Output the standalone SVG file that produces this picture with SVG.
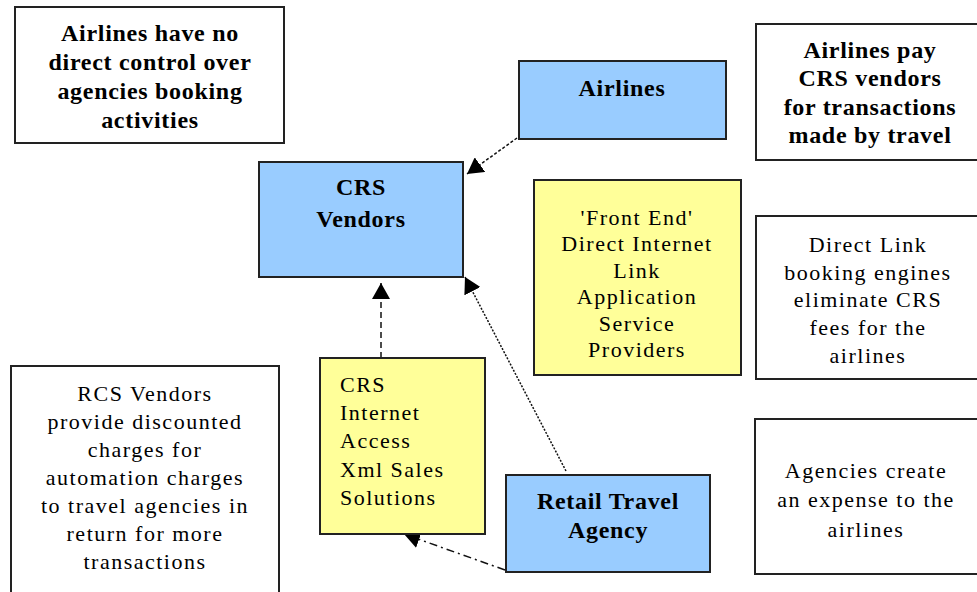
<svg xmlns="http://www.w3.org/2000/svg" width="977" height="592" viewBox="0 0 977 592">
<style>
.box{stroke:#222;stroke-width:2}
.note{fill:#ffffff}
.blue{fill:#99ccff}
.yellow{fill:#ffff99}
text{font-family:'Liberation Serif','DejaVu Serif','Times New Roman',serif;fill:#000}
.b{font-weight:bold;font-size:24px;letter-spacing:0.7px;text-anchor:middle}
.r{font-size:22px;letter-spacing:1.5px;text-anchor:middle}
.rl{font-size:22px;letter-spacing:1.5px;text-anchor:start}
.c{fill:none;stroke:#111;stroke-width:1.5}
</style>
<defs>
<marker id="ah" viewBox="0 0 16 18" refX="16" refY="9" markerWidth="16" markerHeight="18" markerUnits="userSpaceOnUse" orient="auto">
<path d="M0,0 L16,9 L0,18 z" fill="#000"/>
</marker>
</defs>
<rect width="977" height="592" fill="#ffffff"/>
<g id="connectors">
<line class="c" x1="517" y1="138" x2="467" y2="174" stroke-dasharray="3,2" marker-end="url(#ah)"/>
<line class="c" x1="566" y1="471" x2="465" y2="277" stroke-dasharray="2,1.5" marker-end="url(#ah)"/>
<line class="c" x1="381" y1="358" x2="381" y2="283" stroke-dasharray="6,4" marker-end="url(#ah)"/>
<line class="c" x1="505" y1="570" x2="404" y2="534" stroke-dasharray="8,4,2,4" marker-end="url(#ah)"/>
</g>
<g id="note-no-control">
<rect class="box note" x="15" y="7" width="269" height="136"/>
<text class="b" x="150" y="41" font-family="Liberation Serif, serif">Airlines have no</text>
<text class="b" x="150" y="70">direct control over</text>
<text class="b" x="150" y="99">agencies booking</text>
<text class="b" x="150" y="128">activities</text>
</g>
<g id="airlines">
<rect class="box blue" x="519" y="61" width="207" height="78"/>
<text class="b" x="622" y="96">Airlines</text>
</g>
<g id="note-airlines-pay">
<rect class="box note" x="756" y="24" width="230" height="136"/>
<text class="b" x="870" y="58">Airlines pay</text>
<text class="b" x="870" y="86">CRS vendors</text>
<text class="b" x="870" y="115">for transactions</text>
<text class="b" x="870" y="143">made by travel</text>
</g>
<g id="crs-vendors">
<rect class="box blue" x="259" y="162" width="204" height="115"/>
<text class="b" x="361" y="195">CRS</text>
<text class="b" x="361" y="227">Vendors</text>
</g>
<g id="front-end">
<rect class="box yellow" x="534" y="180" width="207" height="195"/>
<text class="r" x="637" y="225">'Front End'</text>
<text class="r" x="637" y="251">Direct Internet</text>
<text class="r" x="637" y="278">Link</text>
<text class="r" x="637" y="304">Application</text>
<text class="r" x="637" y="331">Service</text>
<text class="r" x="637" y="357">Providers</text>
</g>
<g id="note-direct-link">
<rect class="box note" x="756" y="216" width="230" height="163"/>
<text class="r" x="868" y="252">Direct Link</text>
<text class="r" x="868" y="280">booking engines</text>
<text class="r" x="868" y="307">eliminate CRS</text>
<text class="r" x="868" y="335">fees for the</text>
<text class="r" x="868" y="363">airlines</text>
</g>
<g id="note-rcs-vendors">
<rect class="box note" x="11" y="366" width="268" height="240"/>
<text class="r" x="145" y="401">RCS Vendors</text>
<text class="r" x="145" y="429">provide discounted</text>
<text class="r" x="145" y="457">charges for</text>
<text class="r" x="145" y="485">automation charges</text>
<text class="r" x="145" y="513">to travel agencies in</text>
<text class="r" x="145" y="541">return for more</text>
<text class="r" x="145" y="569">transactions</text>
</g>
<g id="crs-internet">
<rect class="box yellow" x="320" y="358" width="165" height="176"/>
<text class="rl" x="340" y="392">CRS</text>
<text class="rl" x="340" y="420">Internet</text>
<text class="rl" x="340" y="448">Access</text>
<text class="rl" x="340" y="477">Xml Sales</text>
<text class="rl" x="340" y="505">Solutions</text>
</g>
<g id="retail-travel-agency">
<rect class="box blue" x="506" y="475" width="204" height="97"/>
<text class="b" x="608" y="509">Retail Travel</text>
<text class="b" x="608" y="538">Agency</text>
</g>
<g id="note-agencies">
<rect class="box note" x="755" y="419" width="230" height="155"/>
<text class="r" x="866" y="478">Agencies create</text>
<text class="r" x="866" y="507">an expense to the</text>
<text class="r" x="866" y="537">airlines</text>
</g>
</svg>
